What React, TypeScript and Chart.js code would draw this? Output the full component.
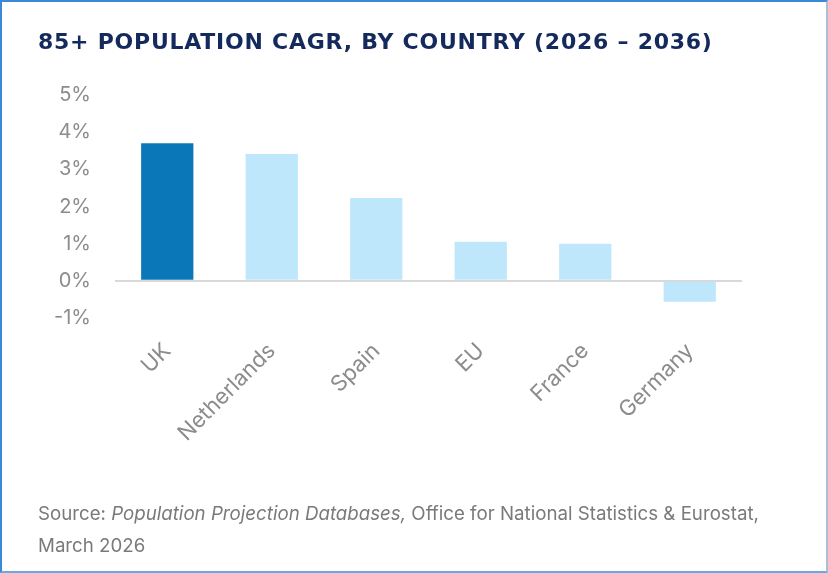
import React, { useEffect, useRef } from "react";
import { Chart, registerables } from "chart.js";

Chart.register(...registerables);

const categories = ["UK", "Netherlands", "Spain", "EU", "France", "Germany"];
const cagrValues = [3.7, 3.41, 2.23, 1.05, 1.0, -0.56];
const barColors = ["#0a78b8", "#bfe7fc", "#bfe7fc", "#bfe7fc", "#bfe7fc", "#bfe7fc"];
const yMin = -1;
const yMax = 5;

export default function App() {
  const ref = useRef<HTMLCanvasElement | null>(null);

  useEffect(() => {
    document.body.style.margin = "0";
    const ctx = ref.current;
    if (!ctx) return;
    const chart = new Chart(ctx, {
      type: "bar",
      data: {
        labels: categories,
        datasets: [
          {
            data: cagrValues,
            backgroundColor: barColors,
            borderWidth: 0,
            categoryPercentage: 1,
            barPercentage: 0.5,
          },
        ],
      },
      options: {
        animation: false,
        responsive: false,
        maintainAspectRatio: false,
        layout: { padding: { left: 0, right: 86, top: 95, bottom: 0 } },
        plugins: {
          legend: { display: false },
          tooltip: { enabled: false },
          title: { display: false },
        },
        scales: {
          x: {
            border: { display: false },
            grid: { display: false, drawTicks: false },
            ticks: {
              color: "#8c8c8c",
              font: { family: "Inter, 'Liberation Sans', sans-serif", size: 22 },
              maxRotation: 45,
              minRotation: 45,
              padding: 20,
            },
            afterFit: (s: any) => {
              s.height = 573 - 95 - 223;
            },
          },
          y: {
            min: yMin,
            max: yMax,
            border: { display: false },
            grid: {
              drawTicks: false,
              color: (c: any) => (c.tick && c.tick.value === 0 ? "#d9d9d9" : "rgba(0,0,0,0)"),
              lineWidth: (c: any) => (c.tick && c.tick.value === 0 ? 2 : 0),
            },
            ticks: {
              stepSize: 1,
              color: "#8c8c8c",
              padding: 24,
              font: { family: "Inter, 'Liberation Sans', sans-serif", size: 20 },
              callback: (v: any) => `${v}%`,
            },
            afterFit: (s: any) => {
              s.width = 115;
            },
          },
        },
      },
    });
    return () => chart.destroy();
  }, []);

  return (
    <div
      style={{
        position: "relative",
        width: 828,
        height: 573,
        boxSizing: "border-box",
        borderTop: "2px solid #3b8ad9",
        borderLeft: "2px solid #3b8ad9",
        borderRight: "2px solid #a9bfd6",
        borderBottom: "2px solid #6aa8e4",
        background: "#ffffff",
        overflow: "hidden",
      }}
    >
      <canvas
        ref={ref}
        width={828}
        height={573}
        style={{ position: "absolute", left: -2, top: -2, width: 828, height: 573 }}
      />
      <div
        style={{
          position: "absolute",
          left: 36,
          top: 27,
          fontFamily: "'DejaVu Sans', 'Liberation Sans', sans-serif",
          fontWeight: 700,
          fontSize: 22,
          letterSpacing: "0.75px",
          color: "#152a5c",
          whiteSpace: "nowrap",
          lineHeight: "26px",
        }}
      >
        85+ POPULATION CAGR, BY COUNTRY (2026 – 2036)
      </div>
      <div
        style={{
          position: "absolute",
          left: 36,
          top: 496,
          fontFamily: "Inter, 'Liberation Sans', sans-serif",
          fontSize: 18.7,
          color: "#7a7a7a",
          lineHeight: "32px",
          width: 790,
          whiteSpace: "nowrap",
        }}
      >
        Source: <i>Population Projection Databases,</i> Office for National Statistics &amp; Eurostat,
        <br />
        March 2026
      </div>
    </div>
  );
}
